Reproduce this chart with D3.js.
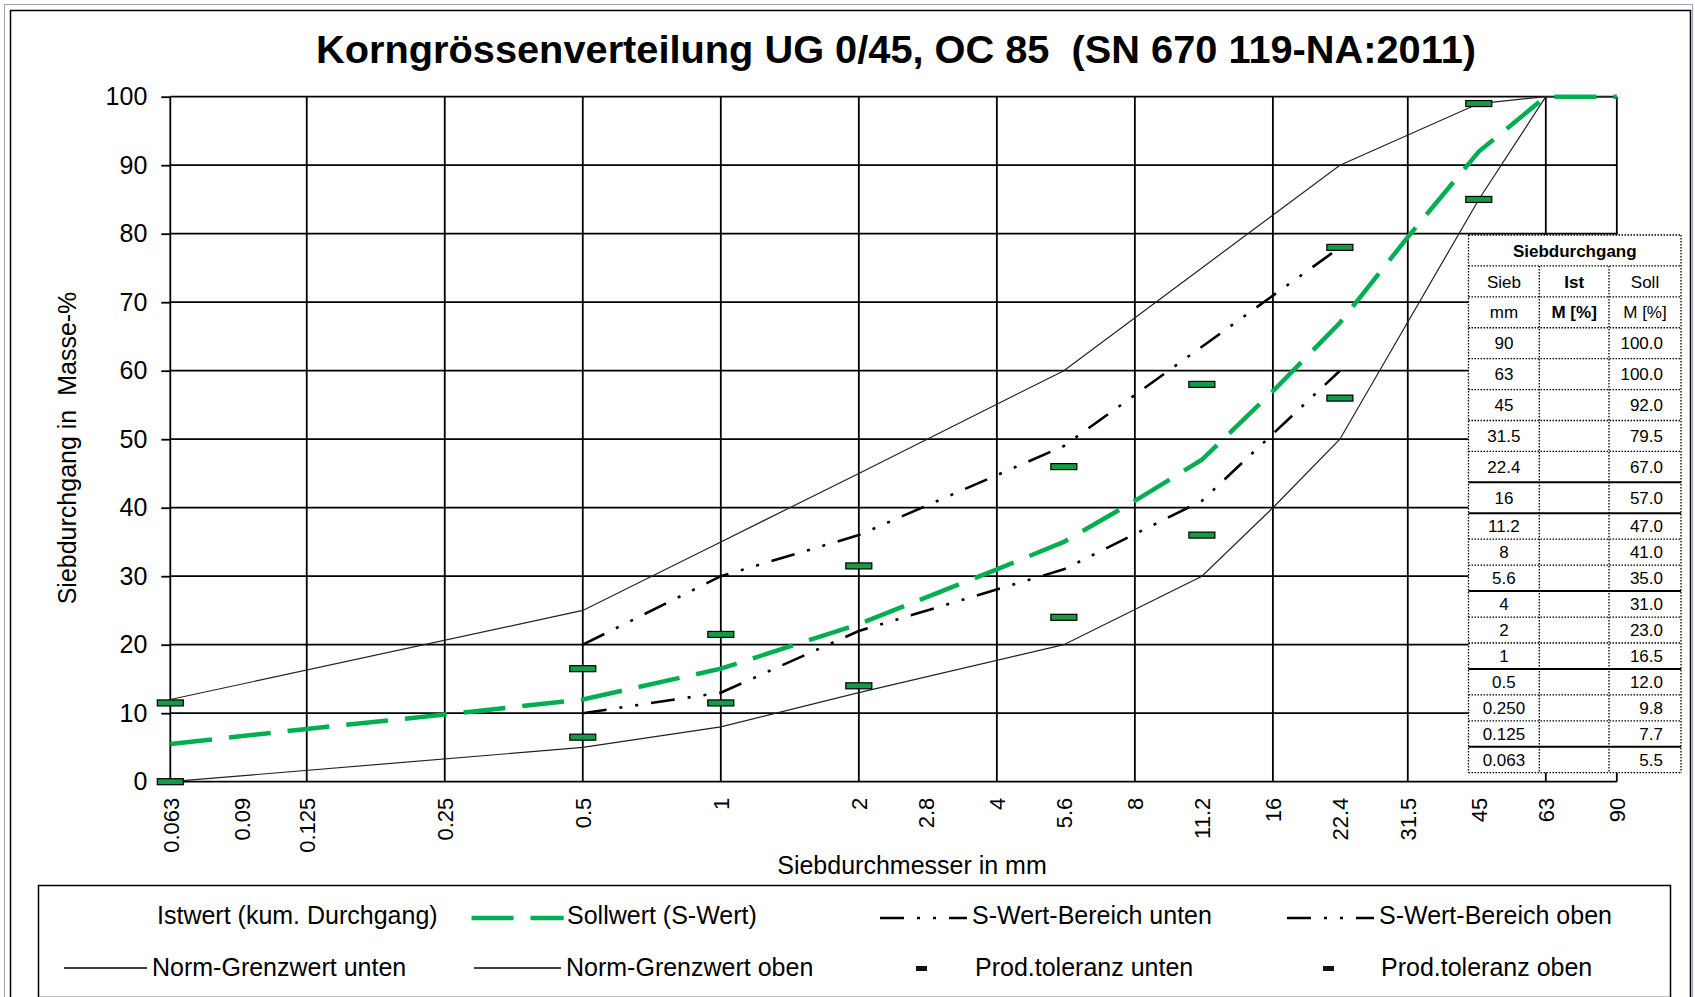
<!DOCTYPE html>
<html lang="de">
<head>
<meta charset="UTF-8">
<title>Korngrössenverteilung</title>
<script src="https://cdn.jsdelivr.net/npm/d3@7"></script>
<style>
    body { margin: 0; background: #fff; }
    text { font-family: "Liberation Sans", Arial, sans-serif; fill: #000; white-space: pre; }
</style>
</head>
<body>
<svg id="chart" width="1695" height="997"></svg>
<script>
    // --- data ---
    const sieveTicks = [0.063, 0.09, 0.125, 0.25, 0.5, 1, 2, 2.8, 4, 5.6, 8, 11.2, 16, 22.4, 31.5, 45, 63, 90]
    const gridSieves = [0.063, 0.125, 0.25, 0.5, 1, 2, 4, 8, 16, 31.5, 63, 90]
    const yTicks = [0, 10, 20, 30, 40, 50, 60, 70, 80, 90, 100]

    const sollSieve = [0.063, 0.125, 0.25, 0.5, 1, 2, 4, 5.6, 8, 11.2, 16, 22.4, 31.5, 45, 63, 90]
    const sollValue = [5.5, 7.7, 9.8, 12.0, 16.5, 23.0, 31.0, 35.0, 41.0, 47.0, 57.0, 67.0, 79.5, 92.0, 100, 100]

    const normUntenSieve = [0.063, 0.5, 1, 2, 5.6, 11.2, 16, 22.4, 45, 63, 90]
    const normUntenValue = [0, 5, 8, 13, 20, 30, 40, 50, 85, 100, 100]
    const normObenSieve = [0.063, 0.5, 1, 2, 5.6, 22.4, 45, 63, 90]
    const normObenValue = [12, 25, 35, 45, 60, 90, 99, 100, 100]

    const sUntenSieve = [0.5, 1, 2, 5.6, 11.2, 22.4]
    const sUntenValue = [10, 13, 22, 31, 41, 60]
    const sObenSieve = [0.5, 1, 2, 5.6, 22.4]
    const sObenValue = [20, 30, 36, 49, 78]

    const tolSieve = [0.063, 0.5, 1, 2, 5.6, 11.2, 22.4, 45]
    const tolUnten = [0, 6.5, 11.5, 14, 24, 36, 56, 85]
    const tolOben = [11.5, 16.5, 21.5, 31.5, 46, 58, 78, 99]

    const tableSieb = ['90', '63', '45', '31.5', '22.4', '16', '11.2', '8', '5.6', '4', '2', '1', '0.5', '0.250', '0.125', '0.063']
    const tableSoll = ['100.0', '100.0', '92.0', '79.5', '67.0', '57.0', '47.0', '41.0', '35.0', '31.0', '23.0', '16.5', '12.0', '9.8', '7.7', '5.5']

    const legendRow1 = ['Istwert (kum. Durchgang)', 'Sollwert (S-Wert)', 'S-Wert-Bereich unten', 'S-Wert-Bereich oben']
    const legendRow2 = ['Norm-Grenzwert unten', 'Norm-Grenzwert oben', 'Prod.toleranz unten', 'Prod.toleranz oben']

    const GREEN = '#00b050'
    const DASHDOT = '24,13,3,13,3,13'

    const svg = d3.select('#chart')

    // frame
    svg.append('rect').attr('x', 4.5).attr('y', 4.5).attr('width', 1688).attr('height', 1000)
        .attr('fill', '#fff').attr('stroke', '#9aa5b5').attr('stroke-width', 1)
    svg.append('rect').attr('x', 10.5).attr('y', 10.5).attr('width', 1680).attr('height', 1000)
        .attr('fill', 'none').attr('stroke', '#000').attr('stroke-width', 1.5)

    // title
    svg.append('text').attr('x', 896).attr('y', 63)
        .attr('text-anchor', 'middle').attr('font-size', 38).attr('font-weight', 'bold')
        .attr('textLength', 1160).attr('lengthAdjust', 'spacingAndGlyphs')
        .text('Korngrössenverteilung UG 0/45, OC 85  (SN 670 119-NA:2011)')

    const x = d3.scaleLog().base(2).domain([0.063, 63]).range([170.3, 1545.8])
    const y = d3.scaleLinear().domain([0, 100]).range([781.7, 96.7])

    // grid
    const grid = svg.append('g').attr('stroke', '#000').attr('stroke-width', 1.8)
    grid.selectAll('.h').data(yTicks).join('line')
        .attr('x1', x(0.063)).attr('x2', x(90))
        .attr('y1', d => y(d)).attr('y2', d => y(d))
    grid.selectAll('.v').data(gridSieves).join('line')
        .attr('x1', d => x(d)).attr('x2', d => x(d))
        .attr('y1', y(0)).attr('y2', y(100))

    // y axis
    const yAxis = svg.append('g').attr('transform', `translate(${x(0.063)},0)`)
        .call(d3.axisLeft(y).tickValues(yTicks).tickSize(9).tickPadding(14))
    yAxis.select('.domain').remove()
    yAxis.selectAll('line').attr('stroke', '#000').attr('stroke-width', 1.8)
    yAxis.selectAll('text').attr('font-size', 25).attr('font-family', null).attr('fill', '#000')

    // x axis labels
    const xAxis = svg.append('g').attr('transform', `translate(0,${y(0)})`)
        .call(d3.axisBottom(x).tickValues(sieveTicks).tickSize(0).tickFormat(d => String(d)))
    xAxis.select('.domain').remove()
    xAxis.selectAll('text')
        .attr('font-size', 22).attr('font-family', null).attr('fill', '#000')
        .attr('text-anchor', 'end').attr('transform', 'rotate(-90)')
        .attr('x', -16).attr('y', 0).attr('dy', '0.35em')

    // axis titles
    svg.append('text').attr('x', 912).attr('y', 874).attr('text-anchor', 'middle')
        .attr('font-size', 25).text('Siebdurchmesser in mm')
    svg.append('text').attr('transform', 'translate(76,448) rotate(-90)')
        .attr('text-anchor', 'middle').attr('font-size', 25).text('Siebdurchgang in  Masse-%')

    // series
    const line = d3.line().x(d => x(d[0])).y(d => y(d[1]))
    const pairs = (s, v) => s.map((d, i) => [d, v[i]])

    svg.append('path').datum(pairs(normUntenSieve, normUntenValue))
        .attr('d', line).attr('fill', 'none').attr('stroke', '#222').attr('stroke-width', 1.2)
    svg.append('path').datum(pairs(normObenSieve, normObenValue))
        .attr('d', line).attr('fill', 'none').attr('stroke', '#222').attr('stroke-width', 1.2)
    svg.append('path').datum(pairs(sUntenSieve, sUntenValue))
        .attr('d', line).attr('fill', 'none').attr('stroke', '#000').attr('stroke-width', 2.6)
        .attr('stroke-dasharray', DASHDOT)
    svg.append('path').datum(pairs(sObenSieve, sObenValue))
        .attr('d', line).attr('fill', 'none').attr('stroke', '#000').attr('stroke-width', 2.6)
        .attr('stroke-dasharray', DASHDOT)
    svg.append('path').datum(pairs(sollSieve, sollValue))
        .attr('d', line).attr('fill', 'none').attr('stroke', GREEN).attr('stroke-width', 4.5)
        .attr('stroke-dasharray', '42,17')

    // production tolerance markers
    const marks = pairs(tolSieve, tolUnten).concat(pairs(tolSieve, tolOben))
    svg.append('g').selectAll('rect').data(marks).join('rect')
        .attr('x', d => x(d[0]) - 13).attr('y', d => y(d[1]) - 3)
        .attr('width', 26).attr('height', 6)
        .attr('fill', '#159a45').attr('stroke', '#000').attr('stroke-width', 1.2)

    // table "Siebdurchgang"
    const cols = [1468.5, 1539.3, 1609, 1681]
    const rowY = [235]
    for (let i = 0; i < 19; i++) rowY.push(rowY[i] + (i < 9 ? 30.92 : 25.94))
    const solidAfter = [7, 8, 11, 14, 17] // row indices (incl. 3 header rows) with solid bottom line
    const tb = svg.append('g')
    tb.append('rect').attr('x', cols[0]).attr('y', rowY[0])
        .attr('width', cols[3] - cols[0]).attr('height', rowY[19] - rowY[0]).attr('fill', '#fff')
    const dotted = sel => sel.attr('stroke', '#000').attr('stroke-width', 1.3).attr('stroke-dasharray', '1.5,1.5')
    // horizontal separators
    rowY.forEach((ry, i) => {
        const l = tb.append('line').attr('x1', cols[0]).attr('x2', cols[3]).attr('y1', ry).attr('y2', ry)
        if (solidAfter.includes(i - 1)) l.attr('stroke', '#000').attr('stroke-width', 2)
        else dotted(l)
    })
    // vertical lines
    cols.forEach((cx, i) => {
        const top = (i === 0 || i === 3) ? rowY[0] : rowY[1]
        dotted(tb.append('line').attr('x1', cx).attr('x2', cx).attr('y1', top).attr('y2', rowY[19]))
    })
    const mid = i => (rowY[i] + rowY[i + 1]) / 2
    const cell = (txt, cx, i, anchor, bold) => tb.append('text')
        .attr('x', cx).attr('y', mid(i)).attr('dy', '0.36em')
        .attr('text-anchor', anchor || 'middle').attr('font-size', 17)
        .attr('font-weight', bold ? 'bold' : null).text(txt)
    const c1 = (cols[0] + cols[1]) / 2, c2 = (cols[1] + cols[2]) / 2, c3 = (cols[2] + cols[3]) / 2
    cell('Siebdurchgang', (cols[0] + cols[3]) / 2, 0, 'middle', true)
    cell('Sieb', c1, 1); cell('Ist', c2, 1, 'middle', true); cell('Soll', c3, 1)
    cell('mm', c1, 2); cell('M [%]', c2, 2, 'middle', true); cell('M [%]', c3, 2)
    tableSieb.forEach((s, i) => {
        cell(s, c1, i + 3)
        cell(tableSoll[i], cols[3] - 18, i + 3, 'end')
    })

    // legend
    const lg = svg.append('g')
    lg.append('rect').attr('x', 38.5).attr('y', 885.5).attr('width', 1632).attr('height', 112)
        .attr('fill', '#fff').attr('stroke', '#000').attr('stroke-width', 1.5)
    const r1 = 915, r2 = 967
    const legText = (txt, lx, ly) => lg.append('text').attr('x', lx).attr('y', ly).attr('dy', '0.35em')
        .attr('font-size', 25).text(txt)
    legText(legendRow1[0], 157, r1)
    lg.append('line').attr('x1', 471.5).attr('x2', 563.7).attr('y1', r1 + 3).attr('y2', r1 + 3)
        .attr('stroke', GREEN).attr('stroke-width', 4.5).attr('stroke-dasharray', '42,17')
    legText(legendRow1[1], 567, r1)
    lg.append('line').attr('x1', 880).attr('x2', 967).attr('y1', r1 + 3).attr('y2', r1 + 3)
        .attr('stroke', '#000').attr('stroke-width', 2.6).attr('stroke-dasharray', DASHDOT)
    legText(legendRow1[2], 972, r1)
    lg.append('line').attr('x1', 1287).attr('x2', 1374).attr('y1', r1 + 3).attr('y2', r1 + 3)
        .attr('stroke', '#000').attr('stroke-width', 2.6).attr('stroke-dasharray', DASHDOT)
    legText(legendRow1[3], 1379, r1)

    lg.append('line').attr('x1', 64).attr('x2', 147).attr('y1', r2 + 1).attr('y2', r2 + 1)
        .attr('stroke', '#000').attr('stroke-width', 1.3)
    legText(legendRow2[0], 152, r2)
    lg.append('line').attr('x1', 474).attr('x2', 561).attr('y1', r2 + 1).attr('y2', r2 + 1)
        .attr('stroke', '#000').attr('stroke-width', 1.3)
    legText(legendRow2[1], 566, r2)
    lg.append('rect').attr('x', 916).attr('y', r2 - 1).attr('width', 11).attr('height', 5).attr('fill', '#111')
    legText(legendRow2[2], 975, r2)
    lg.append('rect').attr('x', 1323).attr('y', r2 - 1).attr('width', 11).attr('height', 5).attr('fill', '#111')
    legText(legendRow2[3], 1381, r2)
</script>
</body>
</html>
